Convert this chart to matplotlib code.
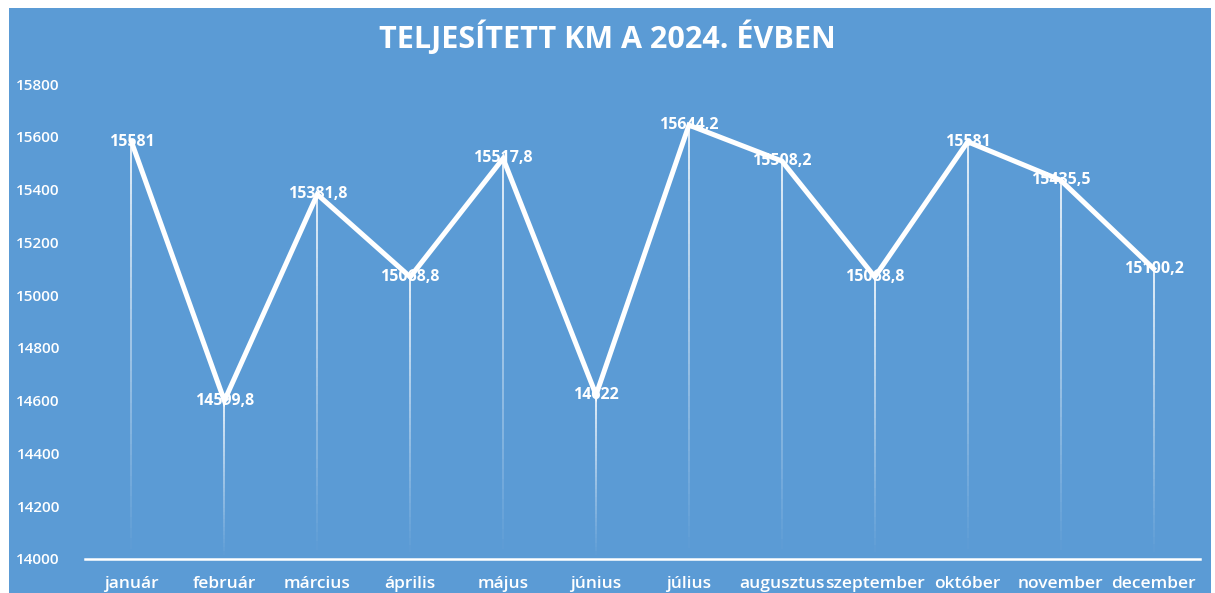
import matplotlib
matplotlib.use("Agg")
import matplotlib.pyplot as plt
from matplotlib.patches import Rectangle
from matplotlib.collections import LineCollection
import numpy as np

honapok = ["január", "február", "március", "április", "május", "június",
           "július", "augusztus", "szeptember", "október", "november", "december"]
km = [15581, 14599.8, 15381.8, 15068.8, 15517.8, 14622,
      15644.2, 15508.2, 15068.8, 15581, 15435.5, 15100.2]
yticks = [14000, 14200, 14400, 14600, 14800, 15000, 15200, 15400, 15600, 15800]

BG = "#5B9BD5"
plt.rcParams["font.family"] = ["Open Sans", "DejaVu Sans"]

fig = plt.figure(figsize=(12.15, 5.93), dpi=100, facecolor=BG)
# white frame edges of the screenshot
fig.patches.append(Rectangle((0, 1 - 8 / 593), 1, 8 / 593, transform=fig.transFigure,
                             facecolor="white", edgecolor="none"))
fig.patches.append(Rectangle((0, 0), 9 / 1215, 1, transform=fig.transFigure,
                             facecolor="white", edgecolor="none"))
fig.patches.append(Rectangle((1 - 4 / 1215, 0), 4 / 1215, 1, transform=fig.transFigure,
                             facecolor="white", edgecolor="none"))

ax = fig.add_axes([85 / 1215, 1 - 559 / 593, 1115 / 1215, (559 - 84) / 593])
ax.set_facecolor(BG)

x = np.arange(len(honapok))
ymin = 14000

# drop lines fading towards the axis
n = 40
for xi, v in zip(x, km):
    ys = np.linspace(ymin, v, n + 1)
    segs = [[(xi, ys[i]), (xi, ys[i + 1])] for i in range(n)]
    alphas = np.linspace(0.0, 0.9, n)
    cols = [(1, 1, 1, a) for a in alphas]
    ax.add_collection(LineCollection(segs, colors=cols, linewidths=1.3))

ax.plot(x, km, color="white", lw=3.6, solid_joinstyle="miter", zorder=3)

for xi, v in zip(x, km):
    s = f"{v:g}".replace(".", ",")
    ax.text(xi, v, s, ha="center", va="center", color="white",
            fontsize=11.5, fontweight="bold", zorder=4)

ax.set_xlim(-0.5, len(honapok) - 0.5)
ax.set_ylim(14000, 15800)
ax.set_yticks(yticks)
ax.set_yticklabels([str(t) for t in yticks], color="white", fontsize=11,
                   fontweight="semibold")
ax.set_xticks(x)
ax.set_xticklabels(honapok, color="white", fontsize=12.5, fontweight="semibold")
ax.tick_params(length=0, pad=12)
ax.tick_params(axis="y", pad=18)
for s in ["top", "right", "left"]:
    ax.spines[s].set_visible(False)
ax.spines["bottom"].set_color("white")
ax.spines["bottom"].set_linewidth(1.8)

fig.text(0.5, 1 - 38 / 593, "TELJESÍTETT KM A 2024. ÉVBEN", ha="center", va="center",
         color="white", fontsize=22, fontweight="bold")

fig.savefig("out.png", dpi=100, facecolor=BG)
